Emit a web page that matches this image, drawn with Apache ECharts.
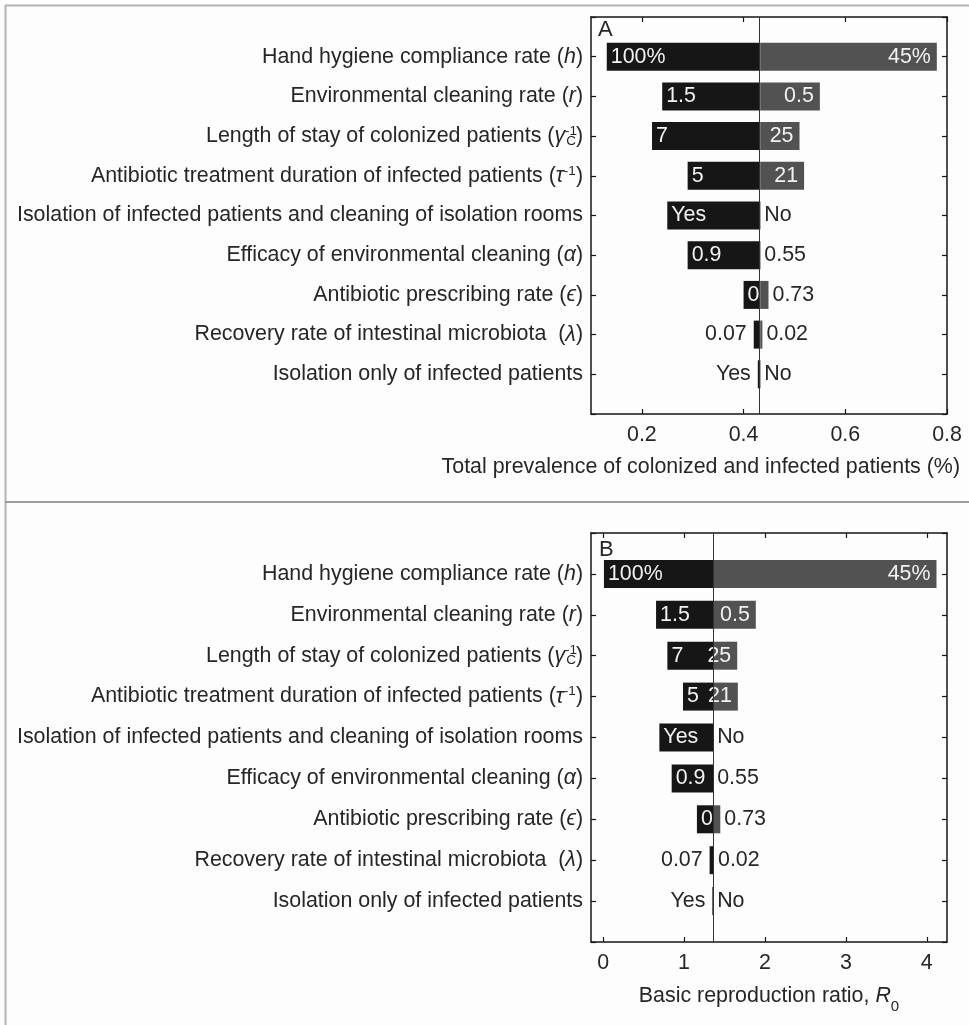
<!DOCTYPE html>
<html>
<head>
<meta charset="utf-8">
<script src="https://cdn.jsdelivr.net/npm/echarts@6/dist/echarts.min.js"></script>
<style>
  html, body { margin: 0; padding: 0; background: #fdfdfd; }
  #chart { width: 969px; height: 1025px; }
</style>
</head>
<body>
<div id="chart"></div>
<script>
// Model parameters varied in the sensitivity analysis (rich-text markup for symbols)
const parameterNames = [
  'Hand hygiene compliance rate ({it|h})',
  'Environmental cleaning rate ({it|r})',
  'Length of stay of colonized patients ({it|γ}{sup|-1}{subC|C})',
  'Antibiotic treatment duration of infected patients ({it|τ}{sup|-1})',
  'Isolation of infected patients and cleaning of isolation rooms',
  'Efficacy of environmental cleaning ({it|α})',
  'Antibiotic prescribing rate ({it|ϵ})',
  'Recovery rate of intestinal microbiota  ({it|λ})',
  'Isolation only of infected patients'
];

// Parameter settings at each end of the tested range
const lowSettingLabels  = ['100%', '1.5', '7', '5', 'Yes', '0.9', '0', '0.07', 'Yes'];
const highSettingLabels = ['45%', '0.5', '25', '21', 'No', '0.55', '0.73', '0.02', 'No'];

// Panel A: total prevalence of colonized and infected patients (%)
const prevalenceBaseline = 0.433;
const prevalenceLow  = [0.131, 0.240, 0.220, 0.290, 0.250, 0.290, 0.400, 0.420, 0.428];
const prevalenceHigh = [0.780, 0.550, 0.510, 0.519, 0.433, 0.433, 0.449, 0.437, 0.433];
const prevalenceTicks = [0.2, 0.4, 0.6, 0.8];

// Panel B: basic reproduction ratio R0
const r0Baseline = 1.36;
const r0Low  = [0.01, 0.654, 0.794, 0.987, 0.695, 0.847, 1.159, 1.316, 1.35];
const r0High = [4.12, 1.887, 1.657, 1.665, 1.36, 1.36, 1.448, 1.37, 1.36];
const r0Ticks = [0, 1, 2, 3, 4];

const FONT = '"Liberation Sans", Arial, Helvetica, sans-serif';
const FS = 21.4;
const TEXT = '#262626';
const AXIS = '#161616';
const DARK_BAR = '#161616';
const GREY_BAR = '#525252';
const PLOT_LEFT = 591, PLOT_WIDTH = 356;

const panels = [
  { top: 17,  height: 397, min: 0.1,   max: 0.8,  ticks: prevalenceTicks, fmt: v => v.toFixed(1),
    base: prevalenceBaseline, low: prevalenceLow, high: prevalenceHigh },
  { top: 533, height: 409, min: -0.15, max: 4.25, ticks: r0Ticks, fmt: v => String(v),
    base: r0Baseline, low: r0Low, high: r0High }
];

// Padded category list: an empty slot above and below keeps a half-row margin
const categories = ['', ...parameterNames, ''];
const pad = arr => ['-', ...arr, '-'];

const richLabel = {
  it:   { fontStyle: 'italic', fontSize: FS, fontFamily: FONT, color: TEXT },
  sup:  { fontSize: 13.5, fontFamily: FONT, color: TEXT, verticalAlign: 'top', lineHeight: 14 },
  subC: { fontSize: 13.5, fontFamily: FONT, color: TEXT, verticalAlign: 'bottom', lineHeight: 12, padding: [0, 0, 0, -11] }
};

const grid = [], xAxis = [], yAxis = [], series = [];

panels.forEach((p, gi) => {
  grid.push({ left: PLOT_LEFT, top: p.top, width: PLOT_WIDTH, height: p.height, containLabel: false });
  const pxPerUnit = PLOT_WIDTH / (p.max - p.min);

  const xCommon = {
    gridIndex: gi, type: 'value', min: p.min, max: p.max,
    splitLine: { show: false },
    axisLine: { show: true, onZero: false, lineStyle: { color: AXIS, width: 1.5 } },
    axisTick: { show: true, inside: true, length: 5, customValues: p.ticks, lineStyle: { color: AXIS, width: 1.2 } }
  };
  xAxis.push(Object.assign({}, xCommon, {
    position: 'bottom',
    axisLabel: { show: true, customValues: p.ticks, formatter: p.fmt, margin: 11,
                 fontSize: FS, fontFamily: FONT, color: TEXT },
    name: gi === 1 ? 'Basic reproduction ratio, {it|R}{sub|0}' : '',
    nameLocation: 'middle', nameGap: 36,
    nameTextStyle: {
      fontSize: FS, fontFamily: FONT, color: TEXT, lineHeight: 36,
      rich: {
        it:  { fontStyle: 'italic', fontSize: FS, fontFamily: FONT, color: TEXT },
        sub: { fontSize: 15, fontFamily: FONT, color: TEXT, verticalAlign: 'bottom', lineHeight: 14 }
      }
    }
  }));
  xAxis.push(Object.assign({}, xCommon, { position: 'top', axisLabel: { show: false } }));

  const yCommon = {
    gridIndex: gi, type: 'category', data: categories, inverse: true, boundaryGap: false,
    axisLine: { show: true, onZero: false, lineStyle: { color: AXIS, width: 1.5 } },
    axisTick: { show: true, inside: true, length: 5, interval: 0, lineStyle: { color: AXIS, width: 1.2 } },
    splitLine: { show: false }
  };
  yAxis.push(Object.assign({}, yCommon, {
    position: 'left',
    axisLabel: { show: true, interval: 0, margin: 8, fontSize: FS, fontFamily: FONT, color: TEXT,
                 lineHeight: 24, rich: richLabel }
  }));
  yAxis.push(Object.assign({}, yCommon, { position: 'right', axisLabel: { show: false } }));

  const xi = gi * 2, yi = gi * 2;
  const stack = 'range' + gi;

  // invisible offset up to the lower end of each range
  series.push({
    type: 'bar', xAxisIndex: xi, yAxisIndex: yi, stack, barWidth: 28, silent: true,
    itemStyle: { color: 'transparent' },
    data: pad(p.low)
  });

  // dark bar: from lower outcome to the baseline
  series.push({
    type: 'bar', xAxisIndex: xi, yAxisIndex: yi, stack, barWidth: 28,
    itemStyle: { color: DARK_BAR },
    data: pad(p.low.map((v, i) => {
      const w = (p.base - v) * pxPerUnit;
      const inside = w > 12;
      return {
        value: p.base - v,
        label: {
          show: true, formatter: lowSettingLabels[i],
          position: inside ? 'insideLeft' : 'left', distance: inside ? 4 : 7,
          fontSize: FS, fontFamily: FONT, color: inside ? '#f2f2f2' : TEXT
        }
      };
    }))
  });

  // grey bar: from the baseline to the upper outcome
  series.push({
    type: 'bar', xAxisIndex: xi, yAxisIndex: yi, stack, barWidth: 28,
    itemStyle: { color: GREY_BAR },
    data: pad(p.high.map((v, i) => {
      const w = (v - p.base) * pxPerUnit;
      const inside = w > 12;
      return {
        value: v - p.base,
        label: {
          show: true, formatter: highSettingLabels[i],
          position: inside ? 'insideRight' : 'right', distance: inside ? 6 : 4,
          fontSize: FS, fontFamily: FONT, color: inside ? '#f2f2f2' : TEXT
        }
      };
    })),
    markLine: {
      silent: true, symbol: 'none', animation: false,
      label: { show: false },
      lineStyle: { color: '#333', width: 1, type: 'solid' },
      data: [{ xAxis: p.base }]
    }
  });
});

const chart = echarts.init(document.getElementById('chart'), null, { renderer: 'canvas' });
chart.setOption({
  backgroundColor: '#fdfdfd',
  animation: false,
  grid, xAxis, yAxis, series,
  graphic: [
    { type: 'line', shape: { x1: 5.5, y1: 5, x2: 5.5, y2: 1025 }, style: { stroke: '#b4b4b4', lineWidth: 2 } },
    { type: 'line', shape: { x1: 5, y1: 5.5, x2: 969, y2: 5.5 }, style: { stroke: '#b4b4b4', lineWidth: 2 } },
    { type: 'line', shape: { x1: 5, y1: 502, x2: 969, y2: 502 }, style: { stroke: '#9c9c9c', lineWidth: 2 } },
    { type: 'text', x: 598, y: 29.5, style: { text: 'A', font: '22px ' + FONT, fill: TEXT, verticalAlign: 'middle' } },
    { type: 'text', x: 599, y: 549.5, style: { text: 'B', font: '22px ' + FONT, fill: TEXT, verticalAlign: 'middle' } },
    { type: 'text', x: 960, y: 467, style: { text: 'Total prevalence of colonized and infected patients (%)',
      font: FS + 'px ' + FONT, fill: TEXT, align: 'right', verticalAlign: 'middle' } }
  ]
});
</script>
</body>
</html>
